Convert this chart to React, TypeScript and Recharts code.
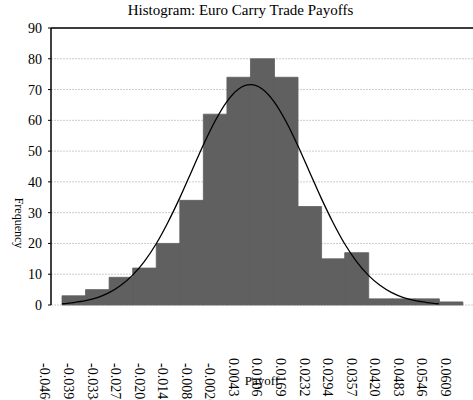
import React from 'react';
import {
  ComposedChart,
  Bar,
  Line,
  XAxis,
  YAxis,
  CartesianGrid,
  ReferenceLine,
  Label,
} from 'recharts';

// Histogram bins (lower edges) and counts
const binLabels = [
  '-0.0460', '-0.0397', '-0.0334', '-0.0271', '-0.0208', '-0.0145', '-0.0083', '-0.0020',
  '0.0043', '0.0106', '0.0169', '0.0232', '0.0294', '0.0357', '0.0420', '0.0483', '0.0546',
];
const counts = [3, 5, 9, 12, 20, 34, 62, 74, 80, 74, 32, 15, 17, 2, 2, 2, 1];

// Axis edge labels (bin boundaries)
const edgeLabels = [
  '-0.0460', '-0.0397', '-0.0334', '-0.0271', '-0.0208', '-0.0145', '-0.0083', '-0.0020',
  '0.0043', '0.0106', '0.0169', '0.0232', '0.0294', '0.0357', '0.0420', '0.0483', '0.0546', '0.0609',
];
const edgePositions = edgeLabels.map((_, i) => i);

// Fitted normal curve (x in bin units)
const curveX = [
  0, 0.5, 1, 1.5, 2, 2.5, 3, 3.5, 4, 4.5, 5, 5.5, 6, 6.5, 7, 7.5, 8,
  8.5, 9, 9.5, 10, 10.5, 11, 11.5, 12, 12.5, 13, 13.5, 14, 14.5, 15, 15.5, 16,
];
const curveY = [
  0.4, 0.8, 1.4, 2.4, 4.0, 6.4, 9.7, 14.2, 19.9, 26.9, 34.8, 43.4, 52.0, 59.8, 66.1, 70.2, 71.6,
  70.2, 66.1, 59.8, 52.0, 43.4, 34.8, 26.9, 19.9, 14.2, 9.7, 6.4, 4.0, 2.4, 1.4, 0.8, 0.4,
];

const yTicks = [0, 10, 20, 30, 40, 50, 60, 70, 80, 90];
const curveAxisTicks = [0, 3.2, 6.4, 9.6, 12.8, 16];

const barData = binLabels.map((b, i) => ({ bin: b, count: counts[i] }));
const curveData = curveX.map((t, i) => ({ t, f: curveY[i] }));

const FONT = '"Liberation Serif", "Times New Roman", serif';

const EdgeTick = (props: any) => {
  const { x, y, payload } = props;
  const label = edgeLabels[payload.value];
  if (label === undefined) return null;
  const cx = x - 17;
  const sy = y + 23 + (label.startsWith('-') ? 5 : 0);
  return (
    <text
      x={cx}
      y={sy}
      transform={`rotate(90, ${cx}, ${sy})`}
      textAnchor="start"
      dominantBaseline="central"
      fontSize={14}
      fontFamily={FONT}
      fill="#000"
    >
      {label}
    </text>
  );
};

export default function App() {
  return (
    <div style={{ position: 'absolute', left: 0, top: 0, width: 473, height: 400, background: '#fff' }}>
      <ComposedChart
        width={473}
        height={400}
        data={barData}
        margin={{ top: 28, right: 0, left: 0, bottom: 0 }}
        barCategoryGap={0}
        barGap={0}
      >
        <XAxis xAxisId="cat" dataKey="bin" type="category" hide padding={{ left: 11, right: 10.5 }} />
        <XAxis
          xAxisId="num"
          dataKey="t"
          type="number"
          domain={[-0.467, 17.45]}
          allowDataOverflow
          ticks={curveAxisTicks}
          tick={false}
          tickSize={4}
          height={5}
          axisLine={{ stroke: '#000', strokeWidth: 1.5 }}
          tickLine={{ stroke: '#000' }}
        />
        <XAxis
          xAxisId="lab"
          dataKey="t"
          type="number"
          domain={[-0.467, 17.45]}
          allowDataOverflow
          ticks={edgePositions}
          interval={0}
          tick={<EdgeTick />}
          tickSize={0}
          tickMargin={0}
          axisLine={false}
          tickLine={false}
          height={90}
        >
          <Label value="Payoff" position="insideTop" offset={41} fontSize={13} fontFamily={FONT} fill="#000" />
        </XAxis>
        <YAxis
          domain={[0, 90]}
          ticks={yTicks}
          width={51}
          interval={0}
          tickSize={3}
          tickMargin={6}
          tick={{ fontSize: 14, fontFamily: FONT, fill: '#000' }}
          axisLine={{ stroke: '#000', strokeWidth: 1.5 }}
          tickLine={{ stroke: '#000' }}
        />
        <CartesianGrid
          xAxisId="num"
          vertical={false}
          stroke="#cccccc"
          strokeDasharray="2 1"
        />
        <ReferenceLine xAxisId="num" y={90} stroke="#000" strokeWidth={1.5} />
        <Bar
          xAxisId="cat"
          dataKey="count"
          fill="#606060"
          stroke="#606060"
          strokeWidth={0.8}
          isAnimationActive={false}
        />
        <Line
          xAxisId="num"
          data={curveData}
          dataKey="f"
          type="monotone"
          stroke="#000"
          strokeWidth={1.3}
          dot={false}
          isAnimationActive={false}
        />
      </ComposedChart>
      <svg
        width={473}
        height={400}
        style={{ position: 'absolute', left: 0, top: 0, pointerEvents: 'none' }}
      >
        <text x={240.5} y={15} textAnchor="middle" fontSize={15} fontFamily={FONT} fill="#000">
          Histogram: Euro Carry Trade Payoffs
        </text>
        <text
          x={18.5}
          y={223}
          transform="rotate(90, 18.5, 223)"
          textAnchor="middle"
          dominantBaseline="central"
          fontSize={12}
          fontFamily={FONT}
          fill="#000"
        >
          Frequency
        </text>
      </svg>
    </div>
  );
}
